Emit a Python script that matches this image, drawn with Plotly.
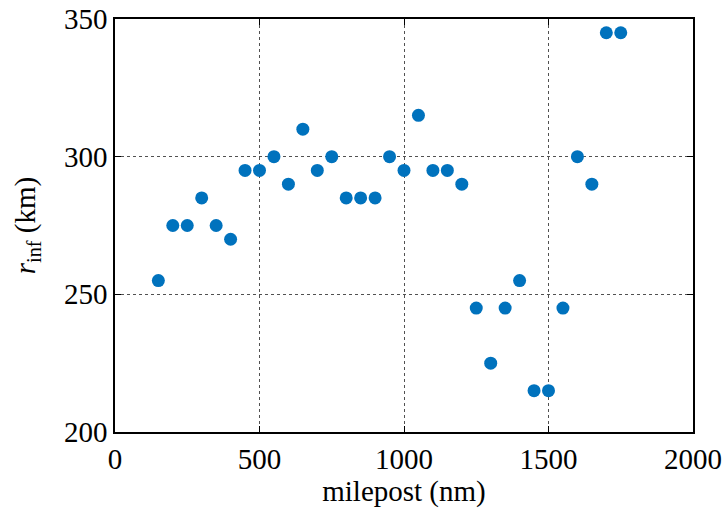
import plotly.graph_objects as go

milepost = [150, 200, 250, 300, 350, 400, 450, 500, 550, 600, 650, 700, 750, 800, 850,
            900, 950, 1000, 1050, 1100, 1150, 1200, 1250, 1300, 1350, 1400, 1450, 1500,
            1550, 1600, 1650, 1700, 1750]
r_inf = [255, 275, 275, 285, 275, 270, 295, 295, 300, 290, 310, 295, 300, 285, 285,
         285, 300, 295, 315, 295, 295, 290, 245, 225, 245, 255, 215, 215,
         245, 300, 290, 345, 345]

x_ticks = [0, 500, 1000, 1500, 2000]
y_ticks = [200, 250, 300, 350]

fig = go.Figure()
fig.add_trace(go.Scatter(
    x=milepost, y=r_inf, mode="markers",
    marker=dict(color="#0072BD", size=13, line=dict(width=0)),
    showlegend=False, cliponaxis=False,
))

font = dict(family="Liberation Serif", size=29, color="black")
axis_common = dict(
    showline=True, linecolor="black", linewidth=1.5, mirror="ticks",
    ticks="inside", ticklen=6, tickcolor="black", tickwidth=1,
    showgrid=True, gridcolor="rgba(50,50,50,0.85)", griddash="dot", gridwidth=1,
    zeroline=False, tickfont=font, automargin=False, ticklabeloverflow="allow",
)
fig.update_xaxes(range=[0, 2000], tickvals=x_ticks,
                 title=dict(text="milepost (nm)", font=font, standoff=6), **axis_common)
fig.update_yaxes(range=[200, 350], tickvals=y_ticks,
                 title=dict(text="<i>r</i><sub>inf</sub> (km)", font=font, standoff=20), **axis_common)

fig.update_layout(
    width=724, height=509,
    margin=dict(l=115, r=31, t=19, b=77),
    plot_bgcolor="white", paper_bgcolor="white",
    font=font,
)
fig.write_html("out.html", config={"displayModeBar": False},
               post_script="document.body.style.margin='0';document.body.style.overflow='hidden';")
